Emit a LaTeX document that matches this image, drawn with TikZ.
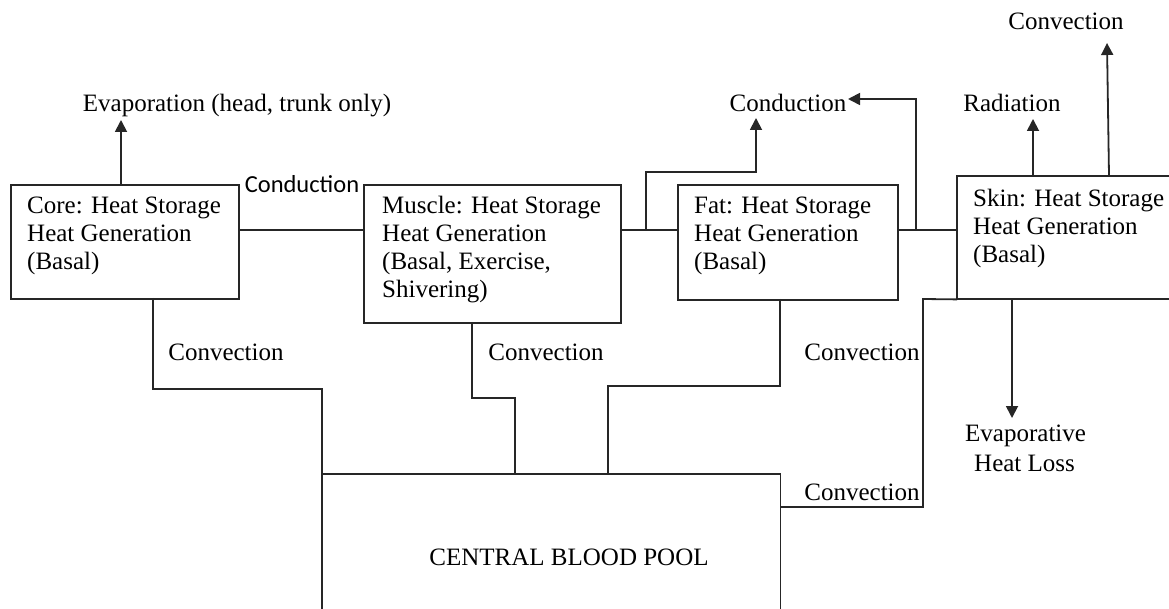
\documentclass[tikz,border=0pt]{standalone}
\usepackage{fontspec}
\setmainfont{Liberation Serif}
\newfontfamily\calib{Carlito}
\usetikzlibrary{arrows.meta}
\begin{document}
\begin{tikzpicture}[x=1pt,y=-1pt,
  conn/.style={draw=black!85, line width=1.8pt},
  arr/.style={conn, -{Triangle[length=12pt,width=12pt]}},
  box/.style={conn, inner sep=0pt, anchor=north west},
  txt/.style={inner sep=0pt, anchor=base west, align=left, font=\fontsize{25}{28.3}\selectfont},
  lbl/.style={inner sep=0pt, anchor=base, font=\fontsize{25}{28.3}\selectfont},
  slbl/.style={inner sep=0pt, anchor=base, font=\calib\fontsize{24.5}{28}\selectfont}]
\useasboundingbox (0,0) rectangle (1169,609);

% boxes
\node[box, minimum width=228pt, minimum height=114pt] (core) at (10,184) {};
\node[box, minimum width=257pt, minimum height=138pt] (muscle) at (363,184) {};
\node[box, minimum width=220pt, minimum height=115pt] (fat) at (677,184) {};
\node[inner sep=0pt, anchor=north west, minimum width=212pt, minimum height=123pt] (skin) at (957,176) {};
\draw[conn] (skin.north east) -- (skin.north west) -- (skin.south west) -- (skin.south east);
\node[inner sep=0pt, anchor=north west, minimum width=458pt, minimum height=135pt] (pool) at (322,474) {};
\draw[conn] (pool.south west) -- (pool.north west) -- (pool.north east) -- (pool.south east);

% box texts (anchor = baseline of last line)
\node[txt] (coretxt) at (27,270) {Core: Heat Storage\\Heat Generation\\(Basal)};
\node[txt] (muscletxt) at (382,298) {Muscle: Heat Storage\\Heat Generation\\(Basal, Exercise,\\Shivering)};
\node[txt] (fattxt) at (694,270) {Fat: Heat Storage\\Heat Generation\\(Basal)};
\node[txt] (skintxt) at (973,263) {Skin: Heat Storage\\Heat Generation\\(Basal)};
\node[inner sep=0pt, font=\fontsize{25}{28.3}\selectfont] (pooltxt) at (569,557) {CENTRAL BLOOD POOL};

% labels
\node[lbl] (evap) at (237,112) {Evaporation (head, trunk only)};
\node[slbl] (cond1) at (302,193) {Conduction};
\node[lbl] (cond2) at (788,112) {Conduction};
\node[lbl] (rad) at (1012,112) {Radiation};
\node[lbl] (conv0) at (1066,30) {Convection};
\node[lbl] (conv1) at (226,360) {Convection};
\node[lbl] (conv2) at (546,360) {Convection};
\node[lbl] (conv3) at (862,360) {Convection};
\node[lbl] (conv4) at (862,500) {Convection};
\node[inner sep=0pt, anchor=base west, align=left, font=\fontsize{25}{30}\selectfont] (evl) at (965,471) {Evaporative\\\hspace{9pt}Heat Loss};

% coordinates
\coordinate (evaptip) at (121,120);
\coordinate (c2tipA) at (756,118);
\coordinate (c2tipB) at (848,99);
\coordinate (radtip) at (1033,119);
\coordinate (conv0tip) at (1107,43);
\coordinate (evltip) at (1012,418);
\coordinate (jm) at (646,230);
\coordinate (jf) at (916,230);
\coordinate (js) at (923,299);

% conduction links
\draw[conn] ([yshift=-46pt]core.north east) -- ([yshift=-46pt]muscle.north west);
\draw[conn] ([yshift=-46pt]muscle.north east) -- ([yshift=-46pt]fat.north west);
\draw[conn] ([yshift=-46pt]fat.north east) -- ([yshift=-54pt]skin.north west);
\draw[arr] (jm) -- (646,172) -- (756,172) -- (c2tipA);
\draw[arr] (jf) -- (916,99) -- (c2tipB);

% outward arrows
\draw[arr] (121,184) -- (evaptip);
\draw[arr] (1033,176) -- (radtip);
\draw[arr] (1109,176) -- (conv0tip);
\draw[arr] (1012,299) -- (evltip);

% convection to pool
\draw[conn] (153,298) -- (153,389) -- (322,389) -- (pool.north west);
\draw[conn] (472,322) -- (472,398) -- (515,398) -- (515,474);
\draw[conn] (780,299) -- (780,386) -- (608,386) -- (608,474);
\draw[conn] (skin.south west) -- (js) -- (923,507) -- (780,507);
\end{tikzpicture}
\end{document}
